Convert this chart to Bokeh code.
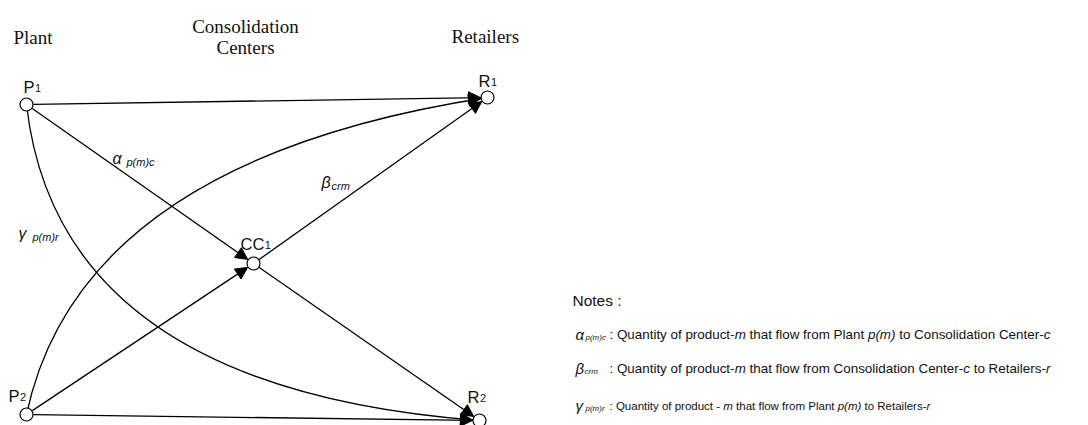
import math
from bokeh.plotting import figure
from bokeh.models import Range1d, Arrow, NormalHead
from bokeh.core.properties import value
from bokeh.embed import file_html
from bokeh.resources import INLINE

# ---------------- data ----------------
node_names = ["P1", "P2", "CC1", "R1", "R2"]
node_x = [26, 26, 253, 487, 479]
node_y = [104, 414, 263, 97, 420]
node_letters = ["P", "P", "CC", "R", "R"]
node_subs = ["1", "2", "1", "1", "2"]

straight_src = ["P1", "P1", "P2", "P2", "CC1", "CC1"]
straight_dst = ["R1", "CC1", "CC1", "R2", "R1", "R2"]

curve_src = ["P1", "P2"]
curve_dst = ["R2", "R1"]
curve_ctrl_x = [58, 80]
curve_ctrl_y = [388, 160]

edge_sym = ["α", "β", "γ"]
edge_sub = ["p(m)c", "crm", "p(m)r"]

header_texts = ["Plant", "Consolidation", "Centers", "Retailers"]

notes_title = "Notes :"
notes_sym = ["α", "β", "γ"]
notes_sub = ["p(m)c", "crm", "p(m)r"]
notes_desc = [
    [(": Quantity of product-", "normal"), ("m", "italic"), (" that flow from Plant ", "normal"),
     ("p(m)", "italic"), (" to Consolidation Center-", "normal"), ("c", "italic")],
    [(": Quantity of product-", "normal"), ("m", "italic"), (" that flow from Consolidation Center-", "normal"),
     ("c", "italic"), (" to Retailers-", "normal"), ("r", "italic")],
    [(": Quantity of product - ", "normal"), ("m", "italic"), (" that flow from Plant ", "normal"),
     ("p(m)", "italic"), (" to Retailers-", "normal"), ("r", "italic")],
]

# ---------------- helpers ----------------
ARIAL = {" ": 278, "!": 278, "(": 333, ")": 333, "-": 333, ":": 278, ".": 278,
         "a": 556, "b": 556, "c": 500, "d": 556, "e": 556, "f": 278, "g": 556, "h": 556,
         "i": 222, "j": 222, "k": 500, "l": 222, "m": 833, "n": 556, "o": 556, "p": 556,
         "q": 556, "r": 333, "s": 500, "t": 278, "u": 556, "v": 500, "w": 722, "x": 500,
         "y": 500, "z": 500, "C": 722, "N": 722, "P": 667, "Q": 778, "R": 722}


def tw(s, size):
    return sum(ARIAL.get(ch, 556) for ch in s) * size / 1000.0


W, H = 1088, 425
p = figure(width=W, height=H, x_range=Range1d(0, W), y_range=Range1d(H, 0),
           output_backend="svg", toolbar_location=None, min_border=0,
           x_axis_type=None, y_axis_type=None)
p.grid.visible = False
p.outline_line_color = None
p.background_fill_color = "white"
p.border_fill_color = "white"


def txt(x, y, s, size, font="Liberation Sans", style="normal", align="left"):
    p.text(x=[x], y=[y], text=[s], text_font=value(font), text_font_size=f"{size}px",
           text_font_style=style, text_align=align, text_baseline="alphabetic",
           text_color="#111111")


def run(x, y, s, size, style):
    """draw a text run keeping its leading blanks as an offset; return advance"""
    lead = len(s) - len(s.lstrip(" "))
    body = s.strip(" ")
    if body:
        txt(x + tw(" " * lead, size), y, body, size, style=style)
    return tw(s, size)


pos = {n: (x, y) for n, x, y in zip(node_names, node_x, node_y)}
R_NODE = 7.0
LW = 1.3
head = lambda: NormalHead(size=12, fill_color="black", line_color="black", line_width=1)

# curved edges
for s, d, cx, cy in zip(curve_src, curve_dst, curve_ctrl_x, curve_ctrl_y):
    (x0, y0), (x1, y1) = pos[s], pos[d]
    p.quadratic(x0=[x0], y0=[y0], x1=[x1], y1=[y1], cx=[cx], cy=[cy],
                line_color="black", line_width=LW)
    dx, dy = x1 - cx, y1 - cy
    L = math.hypot(dx, dy)
    ux, uy = dx / L, dy / L
    tx, ty = x1 - ux * R_NODE, y1 - uy * R_NODE
    p.add_layout(Arrow(end=head(), x_start=tx - ux * 2, y_start=ty - uy * 2, x_end=tx, y_end=ty,
                       line_color="black", line_width=LW))

# straight edges
for s, d in zip(straight_src, straight_dst):
    (x0, y0), (x1, y1) = pos[s], pos[d]
    dx, dy = x1 - x0, y1 - y0
    L = math.hypot(dx, dy)
    ux, uy = dx / L, dy / L
    p.add_layout(Arrow(end=head(), x_start=x0 + ux * R_NODE, y_start=y0 + uy * R_NODE,
                       x_end=x1 - ux * R_NODE, y_end=y1 - uy * R_NODE,
                       line_color="black", line_width=LW))

# nodes
p.scatter(node_x, node_y, marker="circle", size=13, fill_color="white",
          line_color="black", line_width=1.2)

# headers
SERIF = "Liberation Serif"
txt(13, 37, header_texts[0], 19, SERIF)
txt(245, 26, header_texts[1], 19, SERIF, align="center")
txt(245, 47, header_texts[2], 19, SERIF, align="center")
txt(451, 36, header_texts[3], 19, SERIF)

# node labels (letter + subscript)
label_pos = {"P1": (23, 86), "P2": (8, 395), "CC1": (240, 243), "R1": (478, 80), "R2": (467, 396)}
for n, letter, sub in zip(node_names, node_letters, node_subs):
    lx, ly = label_pos[n]
    txt(lx, ly, letter, 16.5)
    txt(lx + tw(letter, 16.5) + 0.5, ly + 1, sub, 11)

# edge labels
edge_pos = [(112, 158), (321, 182), (18, 233)]
for (ex, ey), sym, sub in zip(edge_pos, edge_sym, edge_sub):
    txt(ex, ey, sym, 16, style="italic")
    txt(ex + (14 if sym != "β" else 10), ey + 3, sub, 11, style="italic")

# notes
txt(572, 300, notes_title, 15.5)
NOTE_Y = [334, 368, 405]
NOTE_SIZE = [13.4, 13.4, 11.5]
for i, (ny, sym, sub, segs) in enumerate(zip(NOTE_Y, notes_sym, notes_sub, notes_desc)):
    txt(575, ny, sym, 15, style="italic")
    txt(585 if sym != "β" else 584, ny + 3, sub, 8, style="italic")
    x = 609
    for s, st in segs:
        x += run(x, ny, s, NOTE_SIZE[i], st)

open("out.html", "w").write(file_html(p, INLINE))
